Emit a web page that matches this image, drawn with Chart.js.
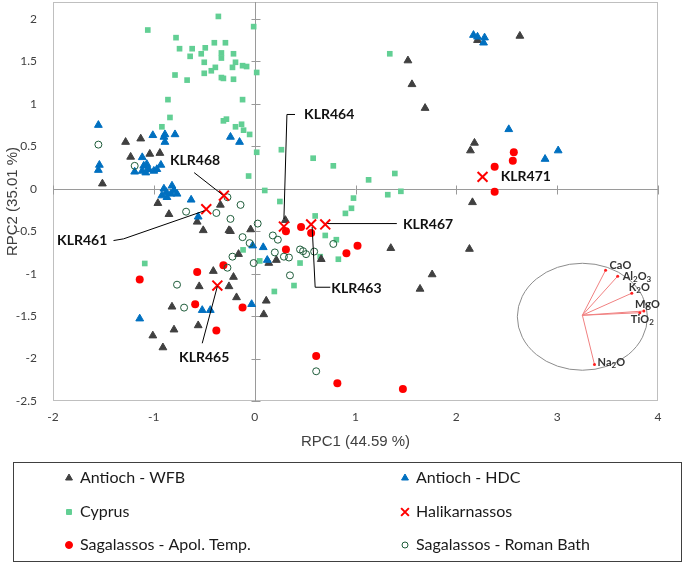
<!DOCTYPE html>
<html>
<head>
<meta charset="utf-8">
<script src="https://cdn.jsdelivr.net/npm/chart.js@4.4.1/dist/chart.umd.min.js"></script>
<style>
  html, body { margin: 0; padding: 0; background: #fff; }
  #wrap { width: 685px; height: 564px; }
</style>
</head>
<body>
<div id="wrap"><canvas id="pcaChart" width="685" height="564"></canvas></div>
<script>
// axis ticks
const xTicks = [-2, -1, 0, 1, 2, 3, 4];
const yTicks = [-2.5, -2, -1.5, -1, -0.5, 0, 0.5, 1, 1.5, 2];

const seriesNames = ['Antioch - WFB', 'Antioch - HDC', 'Cyprus', 'Halikarnassos',
                     'Sagalassos - Apol. Temp.', 'Sagalassos - Roman Bath'];

// Antioch - WFB
const wfbX = [-1.51, -1.28, -1.13, -1.23, -1.04, -0.94, -0.96, -0.85, -0.57, -0.51, -0.34, -0.255, -0.24,
              -0.04, -0.16, -0.41, -0.21, -0.55, -0.255, -0.18, -0.82, -0.56, -0.80, -1.01, -0.91,
              0.305, 0.66, 0.215, 0.14, 1.35, 2.16, 2.13, 1.76, 1.64, 0.115, 0.09, 1.52, 1.56, 1.69,
              2.18, 2.14, 2.21, 2.63];
const wfbY = [0.06, 0.55, 0.59, 0.375, 0.41, 0.42, -0.17, -0.30, -0.39, -0.49, -0.19, -0.49, -0.50,
              -0.48, -0.77, -0.97, -1.04, -1.15, -1.15, -1.28, -1.39, -1.61, -1.66, -1.73, -1.87,
              -0.37, -0.83, -0.84, -0.875, -0.70, -0.16, -0.71, -1.01, -1.18, -1.32, -1.48, 1.51, 1.23, 0.95,
              0.54, 0.45, 1.75, 1.80];

// Antioch - HDC
const hdcX = [-1.55, -1.54, -1.55, -1.01, -0.89, -0.90, -0.89, -0.79, -0.24, -0.15, -1.19, -1.115, -1.10,
              -1.07, -1.05, -1.00, -0.97, -0.93, -1.115, -1.08, -0.90, -0.875, -0.82, -0.83, -0.77, -0.92,
              -0.87, -0.80, -0.63, -0.56, -1.14, -0.52, -0.44, -0.03, -0.02, 0.085, 0.125, 2.17, 2.21,
              2.28, 2.27, 2.52, 3.01, 2.88];
const hdcY = [0.75, 0.28, 0.22, 0.63, 0.64, 0.61, 0.55, 0.64, 0.61, 0.55, 0.20, 0.37, 0.27,
              0.29, 0.23, 0.21, 0.23, 0.28, 0.21, 0.19, 0.00, -0.04, 0.035, -0.06, -0.06, -0.08,
              -0.10, -0.02, -0.13, -0.33, -1.53, -1.43, -1.43, -1.36, -0.67, -0.69, -0.84, 1.81, 1.79,
              1.78, 1.72, 0.70, 0.45, 0.35];

// Cyprus
const cyprusX = [-1.06, -0.36, -0.01, -0.78, -0.745, -0.62, -0.49, -0.40, -0.29, -0.64, -0.53, -0.50, -0.33,
                 -0.33, -0.21, -0.19, -0.12, -0.08, -0.39, -0.43, -0.50, -0.22, -0.79, -0.67, -0.33, -0.31,
                 -0.21, 0.02, -0.86, -0.12, -0.84, -0.92, -0.31, -0.28, -0.19, -0.13, -0.11, -0.05, 0.02,
                 -0.06, 1.34, 0.265, 0.58, 0.78, 1.39, 1.13, 1.45, 1.32, 0.98, 0.10, 0.25, 0.60, 0.96,
                 0.90, 0.70, 0.81, 0.83, 0.45, 0.65, 0.39, 0.195, 0.05, -1.09, -0.115];
const cyprusY = [1.87, 2.03, 1.91, 1.78, 1.65, 1.65, 1.66, 1.72, 1.72, 1.56, 1.59, 1.49, 1.60,
                 1.54, 1.59, 1.49, 1.45, 1.44, 1.43, 1.39, 1.36, 1.43, 1.34, 1.28, 1.31, 1.30,
                 1.29, 1.37, 1.05, 1.05, 0.84, 0.73, 0.80, 0.82, 0.73, 0.76, 0.69, 0.64, 0.43,
                 0.15, 1.59, 0.46, 0.36, 0.27, 0.18, 0.105, -0.03, -0.07, -0.11, -0.02, -0.15, -0.32, -0.23,
                 -0.29, -0.55, -0.60, -0.83, -0.875, -0.80, -1.14, -1.21, -0.85, -0.88, -0.72];

// Halikarnassos
const halikIds = ['KLR468', 'KLR461', 'KLR465', 'KLR464', 'KLR463', 'KLR467', 'KLR471'];
const halikX = [-0.305, -0.48, -0.37, 0.29, 0.56, 0.70, 2.26];
const halikY = [-0.08, -0.24, -1.14, -0.445, -0.42, -0.42, 0.14];

// Sagalassos - Apol. Temp.
const apolX = [-1.14, -0.57, -0.31, -0.59, -0.12, -0.38, 0.31, 0.46, 0.56, 0.31, 0.91, 1.02, 0.61,
               0.82, 1.47, 2.57, 2.56, 2.38, 2.38];
const apolY = [-1.07, -0.98, -0.90, -1.36, -1.40, -1.67, -0.50, -0.45, -0.52, -0.715, -0.76, -0.67, -1.97,
               -2.29, -2.36, 0.43, 0.33, 0.26, -0.035];

// Sagalassos - Roman Bath
const bathX = [-1.55, -1.19, -0.27, -0.14, -0.68, -0.38, -0.24, -0.12, -0.05, 0.03, -0.22, -0.27, -0.01,
               -0.77, -0.70, 0.18, 0.23, 0.20, 0.29, 0.34, 0.45, 0.48, 0.51, 0.59, 0.78, 0.35, 0.61];
const bathY = [0.52, 0.27, -0.10, -0.19, -0.27, -0.285, -0.355, -0.57, -0.64, -0.41, -0.80, -0.93, -0.875,
               -1.13, -1.40, -0.55, -0.60, -0.75, -0.80, -0.81, -0.715, -0.735, -0.77, -0.74, -0.65, -1.02, -2.15];

// loadings biplot (inset)
const oxides = ['CaO', 'Al2O3', 'K2O', 'MgO', 'TiO2', 'Na2O'];
const loadX = [3.48, 3.60, 3.74, 3.86, 3.82, 3.37];
const loadY = [-0.96, -1.03, -1.23, -1.44, -1.46, -2.07];

// layout bits for the extras (not data)
const biplot = { ox: 3.25, oy: -1.49, rx: 0.645, ry: 0.63 };
const oxideOffsets = [[4, -5], [5, 0], [-3, -6], [-9, -7], [-9, 7], [3, -2]];
const callouts = [
  { text: 'KLR468', at: [-0.84, 0.33], path: [[-0.60, 0.19], [-0.32, -0.07]] },
  { text: 'KLR461', at: [-1.96, -0.61], path: [[-1.40, -0.61], [-1.30, -0.59], [-0.50, -0.26]] },
  { text: 'KLR465', at: [-0.75, -1.99], path: [[-0.52, -1.82], [-0.37, -1.15]] },
  { text: 'KLR464', at: [0.49, 0.87], path: [[0.40, 0.875], [0.32, 0.875], [0.29, -0.355]] },
  { text: 'KLR463', at: [0.76, -1.18], path: [[0.75, -1.16], [0.60, -1.16], [0.57, -0.45]] },
  { text: 'KLR467', at: [1.47, -0.42], path: [[1.41, -0.41], [0.72, -0.41]] },
  { text: 'KLR471', at: [2.44, 0.14], path: [] }
];

const pts = (xs, ys) => xs.map((x, i) => ({ x: x, y: ys[i] }));

const greyText = '#404040';

const extrasPlugin = {
  id: 'extras',
  beforeDatasetsDraw(chart) {
    const { ctx, chartArea: a, scales: { x, y } } = chart;
    ctx.save();
    ctx.strokeStyle = '#bfbfbf';
    ctx.lineWidth = 1;
    ctx.strokeRect(a.left + 0.5, a.top + 0.5, a.right - a.left - 1, a.bottom - a.top - 1);
    // zero axes with cross ticks
    const x0 = Math.round(x.getPixelForValue(0)) + 0.5;
    const y0 = Math.round(y.getPixelForValue(0)) + 0.5;
    ctx.strokeStyle = '#9a9a9a';
    ctx.beginPath();
    ctx.moveTo(x0, a.top); ctx.lineTo(x0, a.bottom);
    ctx.moveTo(a.left, y0); ctx.lineTo(a.right, y0);
    yTicks.forEach(v => {
      const py = Math.round(y.getPixelForValue(v)) + 0.5;
      ctx.moveTo(x0 - 4, py); ctx.lineTo(x0 + 5, py);
    });
    xTicks.forEach(v => {
      const px = Math.round(x.getPixelForValue(v)) + 0.5;
      ctx.moveTo(px, y0 - 4); ctx.lineTo(px, y0 + 5);
    });
    ctx.stroke();
    ctx.restore();
  },
  afterDatasetsDraw(chart) {
    const { ctx, scales: { x, y } } = chart;
    ctx.save();
    // callouts
    ctx.strokeStyle = '#000';
    ctx.lineWidth = 1;
    ctx.fillStyle = '#111';
    ctx.font = 'bold 14px Lato';
    ctx.textBaseline = 'middle';
    ctx.textAlign = 'left';
    callouts.forEach(c => {
      if (c.path.length) {
        ctx.beginPath();
        c.path.forEach((p, i) => {
          const px = x.getPixelForValue(p[0]), py = y.getPixelForValue(p[1]);
          if (i === 0) ctx.moveTo(px, py); else ctx.lineTo(px, py);
        });
        ctx.stroke();
      }
      ctx.fillText(c.text, x.getPixelForValue(c.at[0]), y.getPixelForValue(c.at[1]));
    });

    // biplot inset
    const cx = x.getPixelForValue(biplot.ox), cy = y.getPixelForValue(biplot.oy);
    const rx = x.getPixelForValue(biplot.ox + biplot.rx) - cx;
    const ry = y.getPixelForValue(biplot.oy) - y.getPixelForValue(biplot.oy + biplot.ry);
    ctx.strokeStyle = '#8c8c8c';
    ctx.beginPath();
    ctx.ellipse(cx, cy + 1.5, rx, ry, 0, 0, Math.PI * 2);
    ctx.stroke();
    oxides.forEach((name, i) => {
      const ex = x.getPixelForValue(loadX[i]), ey = y.getPixelForValue(loadY[i]);
      ctx.strokeStyle = '#f08080';
      ctx.beginPath(); ctx.moveTo(cx, cy); ctx.lineTo(ex, ey); ctx.stroke();
      ctx.fillStyle = '#ff2020';
      ctx.beginPath(); ctx.arc(ex, ey, 1.5, 0, Math.PI * 2); ctx.fill();
      // label with subscripts
      let tx = ex + oxideOffsets[i][0];
      const ty = ey + oxideOffsets[i][1];
      ctx.fillStyle = '#333';
      for (const ch of name) {
        const sub = /\d/.test(ch);
        ctx.font = sub ? 'bold 8px Lato' : 'bold 11px Lato';
        ctx.fillText(ch, tx, sub ? ty + 3 : ty);
        tx += ctx.measureText(ch).width;
      }
    });

    // legend box
    ctx.strokeStyle = '#404040';
    ctx.lineWidth = 1;
    ctx.strokeRect(13.5, 462.5, 668, 99);
    const cols = [69, 405], rows = [478, 512, 545];
    const legendRadius = [4, 4, 3.5, 5.5, 3.5, 3];
    chart.data.datasets.forEach((ds, i) => {
      const mx = cols[i % 2], my = rows[Math.floor(i / 2)];
      ctx.fillStyle = ds.backgroundColor;
      ctx.strokeStyle = ds.borderColor;
      ctx.lineWidth = ds.pointStyle === 'crossRot' ? 2 : 1;
      Chart.helpers.drawPoint(ctx, { pointStyle: ds.pointStyle, rotation: 0,
        radius: legendRadius[i], borderWidth: ctx.lineWidth }, mx, my);
      ctx.fillStyle = '#1a1a1a';
      ctx.font = '16px Lato';
      ctx.fillText(ds.label, mx + 11, my);
    });
    ctx.restore();
  }
};

const ctx = document.getElementById('pcaChart');

new Chart(ctx, {
  type: 'scatter',
  data: {
    datasets: [
      { label: seriesNames[0], data: pts(wfbX, wfbY), pointStyle: 'triangle', pointRadius: 4.5,
        backgroundColor: '#404040', borderColor: '#404040', borderWidth: 1, order: 5 },
      { label: seriesNames[1], data: pts(hdcX, hdcY), pointStyle: 'triangle', pointRadius: 4.5,
        backgroundColor: '#0070c0', borderColor: '#0070c0', borderWidth: 1, order: 4 },
      { label: seriesNames[2], data: pts(cyprusX, cyprusY), pointStyle: 'rect', pointRadius: 4,
        backgroundColor: '#62cf94', borderColor: '#62cf94', borderWidth: 0, order: 6 },
      { label: seriesNames[3], data: pts(halikX, halikY), pointStyle: 'crossRot', pointRadius: 7,
        backgroundColor: '#ff0000', borderColor: '#ff0000', borderWidth: 2, order: 0 },
      { label: seriesNames[4], data: pts(apolX, apolY), pointStyle: 'circle', pointRadius: 4,
        backgroundColor: '#ff0000', borderColor: '#ff0000', borderWidth: 0, order: 2 },
      { label: seriesNames[5], data: pts(bathX, bathY), pointStyle: 'circle', pointRadius: 3.5,
        backgroundColor: 'rgba(255,255,255,0)', borderColor: '#1e5c3a', borderWidth: 1, order: 1 }
    ]
  },
  options: {
    responsive: false,
    animation: false,
    layout: { autoPadding: false, padding: { top: 2, right: 27, bottom: 109, left: 0 } },
    plugins: { legend: { display: false }, tooltip: { enabled: false } },
    elements: { point: { hoverRadius: 4 } },
    scales: {
      x: {
        type: 'linear', min: -2, max: 4,
        afterBuildTicks: s => { s.ticks = xTicks.map(v => ({ value: v })); },
        afterFit: s => { s.height = 54; s.paddingLeft = 0; s.paddingRight = 0; },
        grid: { display: false, drawTicks: false },
        border: { display: false },
        ticks: { padding: 9, color: greyText, font: { family: 'Lato', size: 12 }, callback: v => String(v) },
        title: { display: true, text: 'RPC1 (44.59 %)', color: greyText,
                 font: { family: 'Liberation Sans', size: 15 }, padding: { top: 4, bottom: 4 } }
      },
      y: {
        type: 'linear', min: -2.5, max: 2.2,
        afterBuildTicks: s => { s.ticks = yTicks.map(v => ({ value: v })); },
        afterFit: s => { s.width = 53; s.paddingTop = 0; s.paddingBottom = 0; },
        grid: { display: false, drawTicks: false },
        border: { display: false },
        ticks: { padding: 16, color: greyText, font: { family: 'Lato', size: 12 }, callback: v => String(v) },
        title: { display: true, text: 'RPC2 (35.01 %)', color: greyText,
                 font: { family: 'Liberation Sans', size: 15 }, padding: { top: 4, bottom: 4 } }
      }
    }
  },
  plugins: [extrasPlugin]
});
</script>
</body>
</html>
